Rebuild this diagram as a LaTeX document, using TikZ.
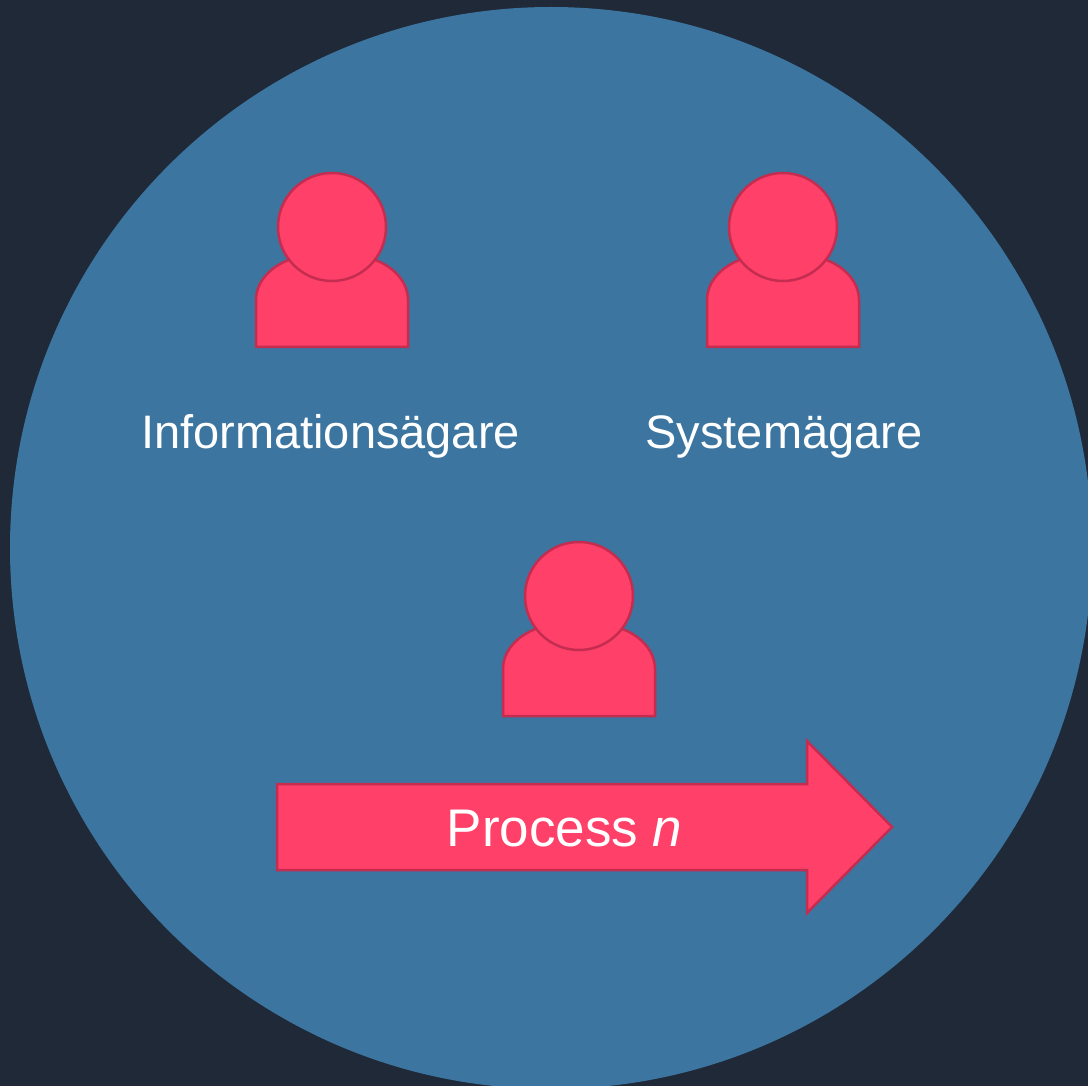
\documentclass[tikz,border=0pt]{standalone}
\usepackage{fontspec}
\setmainfont{Liberation Sans}
\definecolor{bgdark}{HTML}{1F2937}
\definecolor{bluecirc}{HTML}{3B75A0}
\definecolor{pinkfill}{HTML}{FF4069}
\definecolor{pinkline}{HTML}{C42D50}
\tikzset{
  iconshape/.style={fill=pinkfill, draw=pinkline, line width=2.5pt, line join=miter},
  lbl/.style={text=white, font=\fontsize{47}{52}\selectfont, inner sep=0pt, anchor=base},
  arrlbl/.style={text=white, font=\fontsize{53}{58}\selectfont, inner sep=0pt, anchor=base},
  pics/person/.style={code={
    \draw[iconshape] (-76,-120) -- (-76,-73)
      arc[start angle=180, end angle=90, x radius=60, y radius=45]
      -- (16,-28)
      arc[start angle=90, end angle=0, x radius=60, y radius=45]
      -- (76,-120) -- cycle;
    \draw[iconshape] (0,0) circle[radius=54];
  }}
}
\begin{document}
\begin{tikzpicture}[x=1pt,y=1pt]
\useasboundingbox (0,0) rectangle (1088,-1086);
\clip (0,0) rectangle (1088,-1086);
\fill[bgdark] (0,0) rectangle (1088,-1086);
\fill[bluecirc] (551,-548) circle[radius=541];
\pic (p1) at (332,-227) {person};
\pic (p2) at (783,-227) {person};
\pic (p3) at (579,-596) {person};
\node[lbl] (l1) at (330.5,-448) {Informationsägare};
\node[lbl] (l2) at (784,-448) {Systemägare};
\draw[iconshape] (277,-784) -- (807,-784) -- (807,-741) -- (892,-827)
  -- (807,-913) -- (807,-870) -- (277,-870) -- cycle;
\node[arrlbl] (pn) at (564.5,-846) {Process \textit{n}};
\end{tikzpicture}
\end{document}
